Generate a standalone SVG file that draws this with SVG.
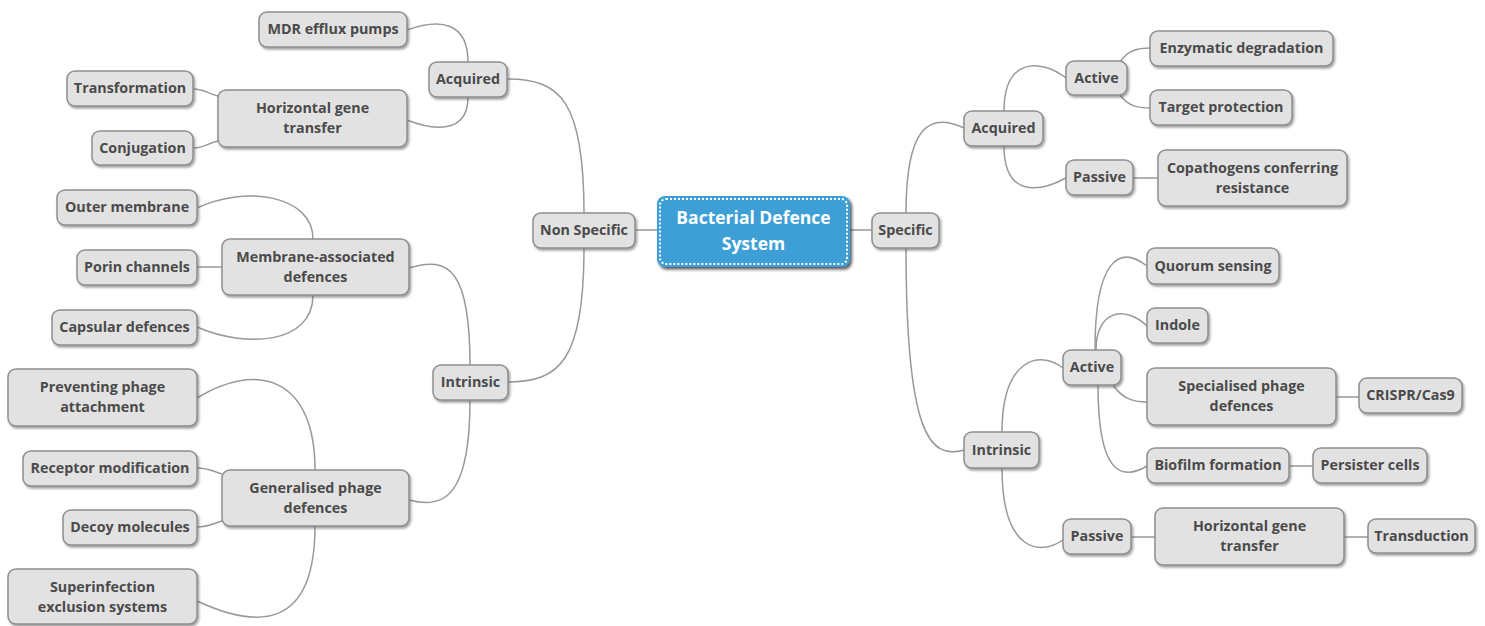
<svg xmlns="http://www.w3.org/2000/svg" width="1485" height="626" viewBox="0 0 1485 626">
<defs>
<filter id="sh" x="-10%" y="-20%" width="130%" height="150%">
<feDropShadow dx="1.5" dy="2" stdDeviation="1.2" flood-color="#555" flood-opacity="0.55"/>
</filter>
<filter id="shc" x="-10%" y="-20%" width="130%" height="150%">
<feDropShadow dx="2" dy="2.5" stdDeviation="1.5" flood-color="#222" flood-opacity="0.75"/>
</filter>
</defs>
<style>
.n rect{fill:#e2e2e2;stroke:#8e8e8e;stroke-width:1.5;filter:url(#sh)}
.n text{font-family:"Open Sans","DejaVu Sans",sans-serif;font-weight:bold;font-size:14.3px;fill:#4a4a4a;text-anchor:middle}
.c path{fill:none;stroke:#999999;stroke-width:1.5}
.ctr rect.b{fill:#3d9fd5;filter:url(#shc)}
.ctr rect.d{fill:none;stroke:#ffffff;stroke-width:2;stroke-dasharray:2 2}
.ctr text{font-family:"Open Sans","DejaVu Sans",sans-serif;font-weight:bold;font-size:17.5px;fill:#ffffff;text-anchor:middle}
</style>
<rect width="1485" height="626" fill="#ffffff"/>
<g id="connectors" class="c">
<path d="M635,230 L657,230"/>
<path d="M850,230 L872,230"/>
<path d="M584,213 C584,100 560,79 507,79"/>
<path d="M584,248 C584,360 560,382 508,382"/>
<path d="M468,62 C468,22 440,18 407,30"/>
<path d="M468,97 C468,135 432,130 407,120"/>
<path d="M193,89 C205,89 208,94 218,96"/>
<path d="M193,148 C205,148 208,143 218,141"/>
<path d="M470,365 C470,272 450,255 409,268"/>
<path d="M470,400 C470,495 445,510 409,500"/>
<path d="M313,239 C313,195 245,185 197,208"/>
<path d="M197,267 L222,267"/>
<path d="M313,295 C313,345 245,348 197,327"/>
<path d="M315,470 C315,375 255,362 197,398"/>
<path d="M197,468 C208,468 212,471 222,474"/>
<path d="M197,527 C208,527 212,524 222,521"/>
<path d="M315,526 C315,632 255,628 197,601"/>
<path d="M906,213 C906,125 930,112 964,128"/>
<path d="M906,248 C906,435 930,460 964,450"/>
<path d="M1004,111 C1004,58 1040,58 1066,78"/>
<path d="M1004,146 C1004,198 1040,192 1066,178"/>
<path d="M1120,62 C1128,50 1138,48 1150,48"/>
<path d="M1120,95 C1128,106 1138,108 1150,108"/>
<path d="M1133,178 L1158,178"/>
<path d="M1002,432 C1002,358 1040,350 1063,368"/>
<path d="M1002,468 C1002,552 1040,556 1063,540"/>
<path d="M1095,350 C1095,258 1120,245 1147,266"/>
<path d="M1096,350 C1096,310 1125,305 1147,326"/>
<path d="M1113,385 C1122,398 1132,402 1147,402"/>
<path d="M1098,385 C1098,472 1120,482 1147,466"/>
<path d="M1336,397 L1359,397"/>
<path d="M1289,466 L1313,466"/>
<path d="M1131,537 L1155,537"/>
<path d="M1344,537 L1368,537"/>
</g>
<g id="center" class="ctr">
<rect class="b" x="657" y="196" width="193" height="71" rx="8"/>
<rect class="d" x="660" y="199" width="187" height="65" rx="6"/>
<text x="753.5" y="224">Bacterial Defence</text>
<text x="753.5" y="250">System</text>
</g>
<g id="nonspecific" class="n"><rect x="533" y="213" width="102" height="35" rx="8"/><text x="584" y="235">Non Specific</text></g>
<g id="acquired-l" class="n"><rect x="429" y="62" width="78" height="35" rx="8"/><text x="468" y="84">Acquired</text></g>
<g id="mdr" class="n"><rect x="259" y="12" width="148" height="35" rx="8"/><text x="333" y="34">MDR efflux pumps</text></g>
<g id="hgt-l" class="n"><rect x="218" y="90" width="189" height="57" rx="8"/><text x="312.5" y="113">Horizontal gene</text><text x="312.5" y="133">transfer</text></g>
<g id="transformation" class="n"><rect x="67" y="71" width="126" height="35" rx="8"/><text x="130" y="93">Transformation</text></g>
<g id="conjugation" class="n"><rect x="92" y="131" width="101" height="34" rx="8"/><text x="142.5" y="153">Conjugation</text></g>
<g id="intrinsic-l" class="n"><rect x="433" y="365" width="75" height="35" rx="8"/><text x="470.5" y="387">Intrinsic</text></g>
<g id="membrane" class="n"><rect x="222" y="239" width="187" height="56" rx="8"/><text x="315.5" y="262">Membrane-associated</text><text x="315.5" y="282">defences</text></g>
<g id="outer" class="n"><rect x="57" y="190" width="140" height="35" rx="8"/><text x="127" y="212">Outer membrane</text></g>
<g id="porin" class="n"><rect x="77" y="250" width="120" height="35" rx="8"/><text x="137" y="272">Porin channels</text></g>
<g id="capsular" class="n"><rect x="52" y="310" width="145" height="35" rx="8"/><text x="124.5" y="332">Capsular defences</text></g>
<g id="generalised" class="n"><rect x="222" y="470" width="187" height="56" rx="8"/><text x="315.5" y="493">Generalised phage</text><text x="315.5" y="513">defences</text></g>
<g id="preventing" class="n"><rect x="8" y="369" width="189" height="57" rx="8"/><text x="102.5" y="392">Preventing phage</text><text x="102.5" y="412">attachment</text></g>
<g id="receptor" class="n"><rect x="23" y="451" width="174" height="35" rx="8"/><text x="110" y="473">Receptor modification</text></g>
<g id="decoy" class="n"><rect x="63" y="510" width="134" height="35" rx="8"/><text x="130" y="532">Decoy molecules</text></g>
<g id="superinfection" class="n"><rect x="8" y="569" width="189" height="55" rx="8"/><text x="102.5" y="592">Superinfection</text><text x="102.5" y="612">exclusion systems</text></g>
<g id="specific" class="n"><rect x="872" y="213" width="67" height="35" rx="8"/><text x="905.5" y="235">Specific</text></g>
<g id="acquired-r" class="n"><rect x="964" y="111" width="79" height="35" rx="8"/><text x="1003.5" y="133">Acquired</text></g>
<g id="active-a" class="n"><rect x="1066" y="61" width="61" height="34" rx="8"/><text x="1096.5" y="83">Active</text></g>
<g id="enzymatic" class="n"><rect x="1150" y="31" width="183" height="35" rx="8"/><text x="1241.5" y="53">Enzymatic degradation</text></g>
<g id="target" class="n"><rect x="1150" y="90" width="142" height="35" rx="8"/><text x="1221" y="112">Target protection</text></g>
<g id="passive-a" class="n"><rect x="1066" y="160" width="67" height="35" rx="8"/><text x="1099.5" y="182">Passive</text></g>
<g id="copathogens" class="n"><rect x="1158" y="150" width="189" height="56" rx="8"/><text x="1252.5" y="173">Copathogens conferring</text><text x="1252.5" y="193">resistance</text></g>
<g id="intrinsic-r" class="n"><rect x="964" y="432" width="75" height="36" rx="8"/><text x="1001.5" y="455">Intrinsic</text></g>
<g id="active-i" class="n"><rect x="1063" y="350" width="58" height="35" rx="8"/><text x="1092" y="372">Active</text></g>
<g id="quorum" class="n"><rect x="1147" y="248" width="132" height="36" rx="8"/><text x="1213" y="271">Quorum sensing</text></g>
<g id="indole" class="n"><rect x="1147" y="308" width="61" height="35" rx="8"/><text x="1177.5" y="330">Indole</text></g>
<g id="specialised" class="n"><rect x="1147" y="368" width="189" height="57" rx="8"/><text x="1241.5" y="391">Specialised phage</text><text x="1241.5" y="411">defences</text></g>
<g id="crispr" class="n"><rect x="1359" y="378" width="103" height="35" rx="8"/><text x="1410.5" y="400">CRISPR/Cas9</text></g>
<g id="biofilm" class="n"><rect x="1147" y="448" width="142" height="35" rx="8"/><text x="1218" y="470">Biofilm formation</text></g>
<g id="persister" class="n"><rect x="1313" y="448" width="114" height="35" rx="8"/><text x="1370" y="470">Persister cells</text></g>
<g id="passive-i" class="n"><rect x="1063" y="519" width="68" height="35" rx="8"/><text x="1097" y="541">Passive</text></g>
<g id="hgt-r" class="n"><rect x="1155" y="508" width="189" height="57" rx="8"/><text x="1249.5" y="531">Horizontal gene</text><text x="1249.5" y="551">transfer</text></g>
<g id="transduction" class="n"><rect x="1368" y="519" width="107" height="34" rx="8"/><text x="1421.5" y="541">Transduction</text></g>
</svg>
